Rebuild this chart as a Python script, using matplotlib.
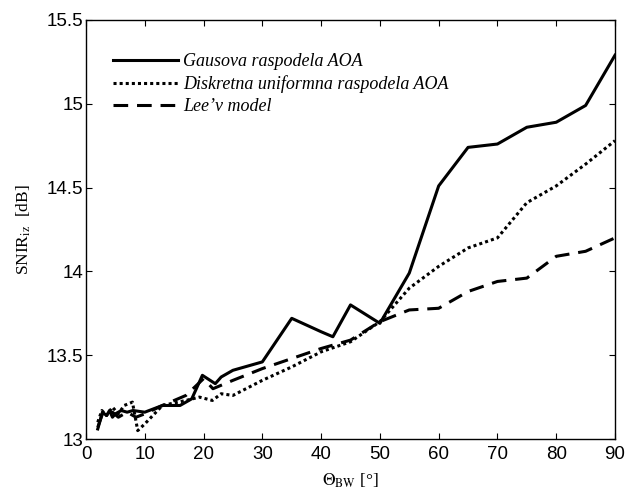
import matplotlib
matplotlib.use("Agg")
import matplotlib.pyplot as plt

plt.rcParams['mathtext.fontset'] = 'stix'

# data
x_gaus = [2, 2.8, 3.5, 4, 4.5, 5, 6, 7, 8, 10, 13, 16, 18, 19.8, 22, 23, 25,
          30, 35, 40, 42, 45, 50, 55, 60, 65, 70, 75, 80, 85, 90]
y_gaus = [13.06, 13.16, 13.14, 13.17, 13.13, 13.15, 13.17, 13.16, 13.17, 13.16,
          13.20, 13.20, 13.24, 13.38, 13.33, 13.37, 13.41, 13.46, 13.72, 13.64,
          13.61, 13.80, 13.69, 13.99, 14.51, 14.74, 14.76, 14.86, 14.89, 14.99, 15.29]

x_disk = [2, 2.7, 3.5, 4.5, 5.5, 6.5, 7.9, 8.8, 10, 13, 17, 19.3, 21.5, 23, 25,
          30, 35, 40, 45, 50, 55, 60, 65, 70, 75, 80, 85, 90]
y_disk = [13.10, 13.17, 13.14, 13.19, 13.15, 13.20, 13.22, 13.05, 13.09, 13.20,
          13.23, 13.25, 13.23, 13.27, 13.26, 13.35, 13.43, 13.52, 13.58, 13.70,
          13.90, 14.03, 14.14, 14.20, 14.41, 14.51, 14.64, 14.78]

x_lee = [2, 2.8, 3.5, 4.5, 5.5, 7, 8.5, 10, 13, 17, 20, 21.6, 25, 30, 35, 40,
         45, 50, 55, 60, 65, 70, 75, 80, 85, 90]
y_lee = [13.07, 13.15, 13.14, 13.16, 13.13, 13.16, 13.13, 13.15, 13.20, 13.26,
         13.36, 13.30, 13.35, 13.42, 13.48, 13.54, 13.59, 13.70, 13.77, 13.78,
         13.88, 13.94, 13.96, 14.09, 14.12, 14.20]

labels = ['Gausova raspodela AOA', 'Diskretna uniformna raspodela AOA', 'Lee\u2019v model']

fig = plt.figure(figsize=(6.43, 4.91), dpi=100)
ax = fig.add_axes([86 / 643, 1 - 439 / 491, (615 - 86) / 643, (439 - 20) / 491])

ax.plot(x_gaus, y_gaus, '-', color='black', lw=2.2, label=labels[0])
ax.plot(x_disk, y_disk, color='black', lw=2.2, linestyle=(0, (1, 1)),
        dash_capstyle='butt', label=labels[1])
ax.plot(x_lee, y_lee, color='black', lw=2.2, linestyle=(0, (4.8, 2.9)),
        dash_capstyle='butt', label=labels[2])

ax.set_xlim(0, 90)
ax.set_ylim(13, 15.5)
ax.set_xticks(range(0, 91, 10))
ax.set_yticks([13, 13.5, 14, 14.5, 15, 15.5])
ax.set_yticklabels(['13', '13.5', '14', '14.5', '15', '15.5'])

ax.tick_params(direction='in', top=True, right=True, length=4, width=0.8,
               labelsize=13.5)
ax.tick_params(axis='x', pad=5)
ax.tick_params(axis='y', pad=2)
for lab in ax.get_xticklabels() + ax.get_yticklabels():
    lab.set_fontfamily('Liberation Sans')
for sp in ax.spines.values():
    sp.set_linewidth(1.0)

ax.set_xlabel(r'$\Theta_{\mathrm{BW}}$ [°]', fontsize=12.5, family='Liberation Serif', labelpad=6)
ax.set_ylabel(r'SNIR$_{\mathrm{iz}}$  [dB]', fontsize=12.5, family='Liberation Serif', labelpad=10)

leg = ax.legend(loc='upper left', bbox_to_anchor=(0.02, 0.96), frameon=False,
                handlelength=3.6, handletextpad=0.28, labelspacing=0.28,
                prop={'family': 'Liberation Serif', 'style': 'italic', 'size': 13})

fig.savefig('out.png', dpi=100)
